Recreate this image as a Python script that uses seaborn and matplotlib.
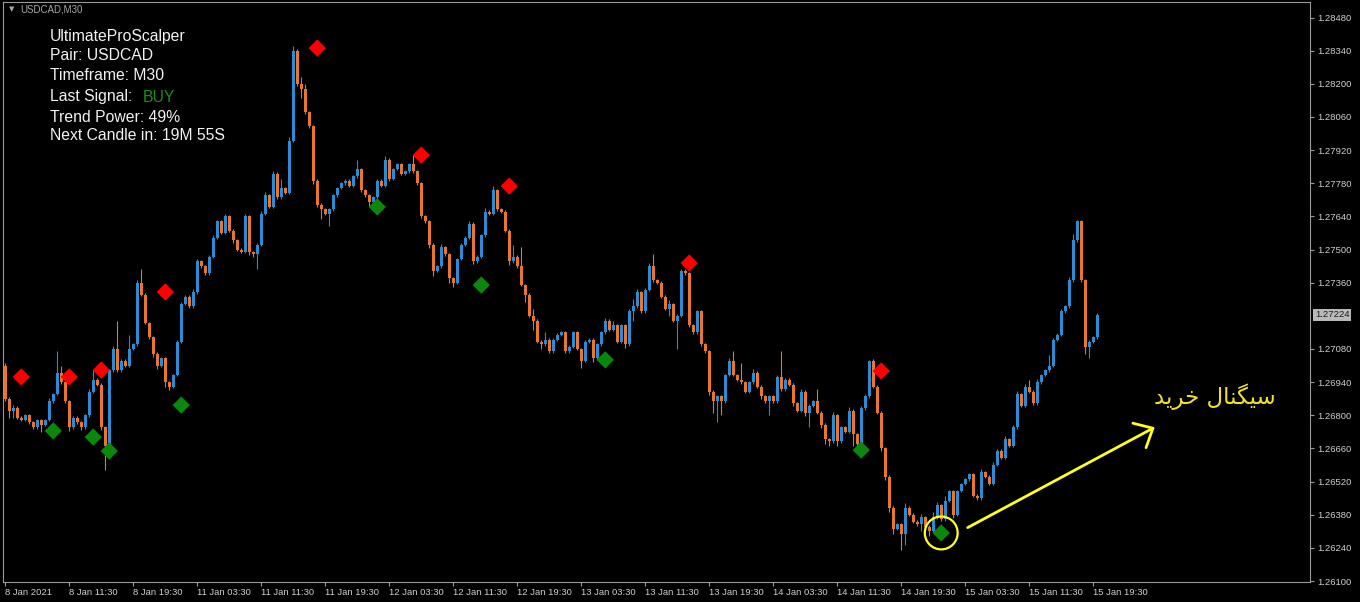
import numpy as np
import pandas as pd
import matplotlib
matplotlib.use("Agg")
import matplotlib.pyplot as plt
import matplotlib.transforms as mtransforms
import seaborn as sns

# ---------------- data (USDCAD M30) ----------------
first_open = 1.2701
closes = [
    1.2687, 1.2682, 1.2683, 1.2679, 1.2678, 1.2680, 1.2677, 1.2675, 1.2678, 1.2676, 1.2678, 1.2686, 1.2689, 1.2698, 1.2694, 1.2686,
    1.2675, 1.2679, 1.2677, 1.2675, 1.2680, 1.2690, 1.2695, 1.2693, 1.2675, 1.2667, 1.2699, 1.2708, 1.2699, 1.2703, 1.2701, 1.2708,
    1.2710, 1.2736, 1.2731, 1.2719, 1.2713, 1.2706, 1.2701, 1.2704, 1.2694, 1.2692, 1.2697, 1.2711, 1.2727, 1.2730, 1.2726, 1.2732,
    1.2745, 1.2743, 1.2740, 1.2747, 1.2755, 1.2762, 1.2757, 1.2764, 1.2758, 1.2754, 1.2750, 1.2749, 1.2764, 1.2749, 1.2748, 1.2752,
    1.2765, 1.2773, 1.2768, 1.2782, 1.2772, 1.2776, 1.2774, 1.2796, 1.2834, 1.2820, 1.2818, 1.2808, 1.2802, 1.2779, 1.2769, 1.2767,
    1.2765, 1.2767, 1.2773, 1.2776, 1.2778, 1.2779, 1.2777, 1.2781, 1.2784, 1.2775, 1.2773, 1.2770, 1.2772, 1.2779, 1.2777, 1.2788,
    1.2780, 1.2784, 1.2786, 1.2782, 1.2783, 1.2786, 1.2783, 1.2778, 1.2764, 1.2762, 1.2752, 1.2741, 1.2743, 1.2751, 1.2748, 1.2738,
    1.2736, 1.2746, 1.2752, 1.2755, 1.2761, 1.2745, 1.2747, 1.2756, 1.2766, 1.2765, 1.2775, 1.2767, 1.2766, 1.2758, 1.2745, 1.2747,
    1.2743, 1.2735, 1.2731, 1.2722, 1.2720, 1.2711, 1.2710, 1.2712, 1.2707, 1.2712, 1.2714, 1.2715, 1.2707, 1.2709, 1.2715, 1.2708,
    1.2703, 1.2711, 1.2712, 1.2704, 1.2710, 1.2715, 1.2720, 1.2716, 1.2718, 1.2711, 1.2718, 1.2710, 1.2724, 1.2726, 1.2732, 1.2724,
    1.2733, 1.2743, 1.2737, 1.2736, 1.2730, 1.2725, 1.2727, 1.2720, 1.2722, 1.2741, 1.2740, 1.2718, 1.2715, 1.2724, 1.2710, 1.2707,
    1.2690, 1.2686, 1.2688, 1.2686, 1.2697, 1.2703, 1.2697, 1.2695, 1.2694, 1.2690, 1.2694, 1.2698, 1.2692, 1.2688, 1.2686, 1.2688,
    1.2686, 1.2696, 1.2691, 1.2695, 1.2693, 1.2685, 1.2682, 1.2690, 1.2681, 1.2684, 1.2686, 1.2681, 1.2676, 1.2670, 1.2669, 1.2680,
    1.2669, 1.2675, 1.2673, 1.2682, 1.2672, 1.2668, 1.2683, 1.2688, 1.2703, 1.2692, 1.2681, 1.2666, 1.2654, 1.2641, 1.2632, 1.2634,
    1.2630, 1.2641, 1.2638, 1.2635, 1.2634, 1.2637, 1.2633, 1.2631, 1.2637, 1.2642, 1.2636, 1.2644, 1.2648, 1.2638, 1.2648, 1.2651,
    1.2653, 1.2655, 1.2646, 1.2645, 1.2656, 1.2654, 1.2651, 1.2659, 1.2665, 1.2662, 1.2670, 1.2667, 1.2675, 1.2689, 1.2684, 1.2692,
    1.2690, 1.2685, 1.2694, 1.2697, 1.2699, 1.2701, 1.2712, 1.2714, 1.2724, 1.2726, 1.2737, 1.2754, 1.2762, 1.2737, 1.2709, 1.2711,
    1.2713, 1.27224,
]
# wick length beyond the candle body, in points (0.00001)
wick_up_pts = [
    10, 6, 15, 8, 6, 6, 6, 6, 6, 6, 6, 12, 6, 90, 30, 6,
    6, 6, 6, 6, 6, 10, 40, 6, 6, 6, 6, 12, 120, 6, 6, 60,
    6, 10, 60, 6, 6, 6, 6, 6, 6, 6, 6, 6, 10, 6, 6, 15,
    10, 6, 6, 6, 12, 6, 6, 10, 6, 6, 6, 6, 10, 6, 6, 6,
    15, 12, 6, 10, 6, 40, 6, 15, 20, 6, 30, 20, 6, 6, 6, 6,
    6, 6, 6, 6, 6, 6, 6, 6, 40, 6, 6, 6, 6, 6, 6, 15,
    6, 6, 6, 6, 6, 6, 40, 6, 6, 6, 6, 6, 6, 12, 6, 6,
    6, 6, 6, 6, 12, 6, 6, 6, 15, 6, 20, 6, 6, 6, 6, 50,
    6, 80, 6, 6, 30, 6, 6, 30, 6, 6, 6, 6, 6, 6, 6, 6,
    6, 6, 6, 6, 6, 6, 10, 6, 20, 6, 6, 6, 10, 30, 15, 6,
    6, 15, 50, 6, 6, 6, 15, 6, 6, 10, 6, 6, 6, 6, 6, 6,
    6, 6, 6, 6, 6, 12, 40, 6, 70, 6, 6, 15, 6, 6, 6, 6,
    6, 10, 110, 6, 6, 6, 6, 12, 6, 6, 6, 50, 6, 6, 6, 15,
    6, 6, 6, 15, 6, 6, 10, 10, 5, 6, 6, 6, 6, 6, 6, 6,
    6, 20, 6, 6, 6, 15, 6, 6, 20, 15, 6, 20, 6, 6, 6, 6,
    6, 6, 6, 6, 15, 6, 6, 12, 6, 6, 12, 6, 10, 12, 6, 12,
    30, 6, 12, 6, 6, 45, 6, 6, 10, 6, 12, 25, 5, 6, 6, 6,
    6, 8,
]
wick_dn_pts = [
    10, 30, 30, 6, 6, 6, 6, 6, 6, 30, 6, 6, 6, 6, 6, 6,
    15, 6, 6, 12, 6, 6, 6, 6, 12, 100, 6, 6, 6, 6, 6, 6,
    6, 6, 6, 6, 6, 12, 15, 6, 20, 15, 6, 6, 6, 6, 6, 6,
    6, 6, 6, 6, 6, 6, 6, 6, 6, 12, 6, 6, 6, 15, 12, 60,
    6, 6, 6, 6, 6, 6, 6, 6, 6, 10, 40, 6, 6, 15, 12, 40,
    6, 50, 6, 6, 6, 6, 6, 6, 6, 6, 6, 15, 6, 6, 6, 6,
    12, 6, 6, 6, 6, 6, 6, 6, 6, 6, 15, 20, 6, 6, 6, 20,
    20, 6, 6, 6, 6, 12, 6, 6, 6, 6, 6, 6, 6, 6, 15, 6,
    6, 6, 30, 6, 40, 6, 20, 6, 6, 6, 6, 6, 6, 6, 6, 6,
    30, 6, 6, 15, 6, 6, 6, 6, 6, 6, 6, 15, 6, 40, 6, 6,
    6, 6, 6, 6, 6, 6, 30, 6, 120, 6, 6, 6, 6, 6, 6, 6,
    15, 50, 90, 60, 6, 6, 6, 6, 6, 6, 6, 6, 6, 12, 6, 60,
    6, 6, 6, 6, 6, 12, 6, 6, 15, 60, 6, 6, 15, 20, 20, 6,
    20, 6, 6, 6, 50, 40, 6, 6, 6, 6, 6, 10, 15, 20, 20, 6,
    70, 50, 6, 6, 6, 30, 6, 20, 6, 6, 6, 6, 6, 15, 6, 6,
    6, 6, 6, 6, 6, 6, 6, 6, 6, 6, 6, 6, 6, 6, 6, 6,
    6, 6, 6, 6, 6, 6, 6, 6, 6, 6, 6, 6, 6, 6, 30, 50,
    6, 6,
]
x_tick_labels = [
    "8 Jan 2021", "8 Jan 11:30", "8 Jan 19:30", "11 Jan 03:30", "11 Jan 11:30",
    "11 Jan 19:30", "12 Jan 03:30", "12 Jan 11:30", "12 Jan 19:30", "13 Jan 03:30",
    "13 Jan 11:30", "13 Jan 19:30", "14 Jan 03:30", "14 Jan 11:30", "14 Jan 19:30",
    "15 Jan 03:30", "15 Jan 11:30", "15 Jan 19:30",
]
bars_per_label = 16
y_ticks = [1.26100, 1.26240, 1.26380, 1.26520, 1.26660, 1.26800, 1.26940, 1.27080,
           1.27360, 1.27500, 1.27640, 1.27780, 1.27920, 1.28060, 1.28200, 1.28340, 1.28480]
last_price = 1.27224

sell_bars = [4, 16, 24, 40, 78, 104, 126, 171, 219]
sell_prices = [1.26962, 1.26962, 1.26991, 1.27321, 1.28351, 1.27899, 1.27768, 1.27443, 1.26987]
buy_bars = [12, 22, 26, 44, 93, 119, 150, 214, 234]
buy_prices = [1.26734, 1.26708, 1.26649, 1.26843, 1.27680, 1.27350, 1.27034, 1.26653, 1.26303]

info_lines = ["UltimateProScalper", "Pair: USDCAD", "Timeframe: M30",
              "Last Signal:", "Trend Power: 49%", "Next Candle in: 19M 55S"]
last_signal = "BUY"
chart_title = "USDCAD,M30"
signal_note = "سیگنال خرید"   # "buy signal"

# ---------------- styles ----------------
BLUE = "#2B8CD6"
ORANGE = "#E8772B"
RED = "#FF0000"
GREEN = "#0B870B"
YELLOW = "#FFFF22"
NOTE_YELLOW = "#F2E12A"
FRAME = "#9A9A9A"
LABEL = "#CFCFCF"


def shape_persian(text):
    """Contextual shaping + visual ordering for the few letters used."""
    forms = {
        "س": ("\ufeb1", "\ufeb2", "\ufeb3", "\ufeb4"),
        "ی": ("\ufbfc", "\ufbfd", "\ufbfe", "\ufbff"),
        "گ": ("\ufb92", "\ufb93", "\ufb94", "\ufb95"),
        "ن": ("\ufee5", "\ufee6", "\ufee7", "\ufee8"),
        "ل": ("\ufedd", "\ufede", "\ufedf", "\ufee0"),
        "خ": ("\ufea5", "\ufea6", "\ufea7", "\ufea8"),
        "ا": ("\ufe8d", "\ufe8e", None, None),
        "ر": ("\ufead", "\ufeae", None, None),
        "د": ("\ufea9", "\ufeaa", None, None),
    }
    out = []
    for i, ch in enumerate(text):
        if ch not in forms:
            out.append(ch)
            continue
        prev = text[i - 1] if i > 0 else ""
        nxt = text[i + 1] if i + 1 < len(text) else ""
        dual = forms[ch][2] is not None
        jp = prev in forms and forms[prev][2] is not None
        jn = dual and nxt in forms
        if jp and jn:
            out.append(forms[ch][3])
        elif jp:
            out.append(forms[ch][1])
        elif jn:
            out.append(forms[ch][2])
        else:
            out.append(forms[ch][0])
    return "".join(out)[::-1]


sns.set_theme(style="dark", rc={
    "figure.facecolor": "black", "axes.facecolor": "black",
    "axes.edgecolor": FRAME, "axes.linewidth": 0.8, "axes.grid": False,
    "xtick.color": FRAME, "ytick.color": FRAME,
    "xtick.labelcolor": LABEL, "ytick.labelcolor": LABEL,
    "xtick.bottom": True, "ytick.right": True,
})
plt.rcParams["font.family"] = ["Liberation Sans", "DejaVu Sans"]

W, H = 1360, 602
fig = plt.figure(figsize=(W / 100, H / 100), dpi=100)
ax = fig.add_axes([3 / W, (H - 582) / H, (1310 - 3) / W, (582 - 2) / H])

n = len(closes)
df = pd.DataFrame({"bar": np.arange(n), "close": closes})
df["open"] = [first_open] + closes[:-1]
body_top = df[["open", "close"]].max(axis=1)
body_bot = df[["open", "close"]].min(axis=1)
df["high"] = body_top + np.array(wick_up_pts) * 1e-5
df["low"] = body_bot - np.array(wick_dn_pts) * 1e-5
colors = np.where(df["close"] >= df["open"], BLUE, ORANGE)

ax.vlines(df["bar"], df["low"], df["high"], colors=colors, linewidth=0.8, zorder=2)
ax.bar(df["bar"], (body_top - body_bot).clip(lower=2.5e-5), bottom=body_bot,
       width=0.72, color=colors, linewidth=0, zorder=3)

sig = pd.DataFrame({
    "bar": sell_bars + buy_bars,
    "price": sell_prices + buy_prices,
    "kind": ["sell"] * len(sell_bars) + ["buy"] * len(buy_bars),
})
sns.scatterplot(data=sig, x="bar", y="price", hue="kind", palette={"sell": RED, "buy": GREEN},
                marker="D", s=78, linewidth=0, legend=False, ax=ax, zorder=5)

# yellow circle around last buy signal
ax.scatter([buy_bars[-1]], [buy_prices[-1]], s=560, facecolors="none",
           edgecolors=YELLOW, linewidths=1.6, zorder=6)
arrow_start = (240.0, 1.26320)
arrow_end = (288.0, 1.26755)
ax.annotate("", xy=arrow_end, xytext=arrow_start,
            arrowprops=dict(arrowstyle="->,head_length=0.55,head_width=0.5",
                            color=YELLOW, lw=2.0, mutation_scale=20), zorder=6)
ax.text(302.5, 1.26878, shape_persian(signal_note), color=NOTE_YELLOW, fontsize=16.5,
        ha="center", va="center", family=["DejaVu Sans"], zorder=6)

ax.set_xlim(-0.575, 326.2)
ax.set_ylim(1.260958, 1.285457)

ax.set_xticks([bars_per_label * k for k in range(len(x_tick_labels))])
ax.set_xticklabels(x_tick_labels)
for t in ax.get_xticklabels():
    t.set_horizontalalignment("left")
ax.tick_params(axis="x", length=3, width=0.8, pad=1.5, labelsize=6.8, direction="out")

ax.yaxis.tick_right()
ax.set_yticks(y_ticks)
ax.set_yticklabels([f"{v:.5f}" for v in y_ticks])
ax.tick_params(axis="y", length=3, width=0.8, pad=2, labelsize=6.8, direction="out")
ax.set_xlabel("")
ax.set_ylabel("")
for s in ax.spines.values():
    s.set_color(FRAME)
    s.set_linewidth(0.8)

trans = mtransforms.blended_transform_factory(ax.transAxes, ax.transData)
ax.text(1.0 + 5 / 1307, last_price, f"{last_price:.5f}", transform=trans, fontsize=6.8,
        color="#1E1E1E", ha="left", va="center",
        bbox=dict(facecolor="#B9B9B9", edgecolor="none", pad=1.2), zorder=7, clip_on=False)

# info panel
ys = [36, 56, 76, 97, 117, 136]
for txt, yy in zip(info_lines, ys):
    fig.text(50 / W, 1 - yy / H, txt, fontsize=11.3, color="#F2F2F2", ha="left", va="center")
fig.text(142.5 / W, 1 - 97 / H, last_signal, fontsize=11.3, color="#1C8E1C", ha="left", va="center")

fig.text(20 / W, 1 - 9 / H, chart_title, fontsize=7, color="#A8A8A8", ha="left", va="center")
fig.text(9 / W, 1 - 9 / H, "\u25bc", fontsize=5, color="#A8A8A8", ha="left", va="center",
         family=["DejaVu Sans"])

fig.savefig("out.png", dpi=100, facecolor="black")
